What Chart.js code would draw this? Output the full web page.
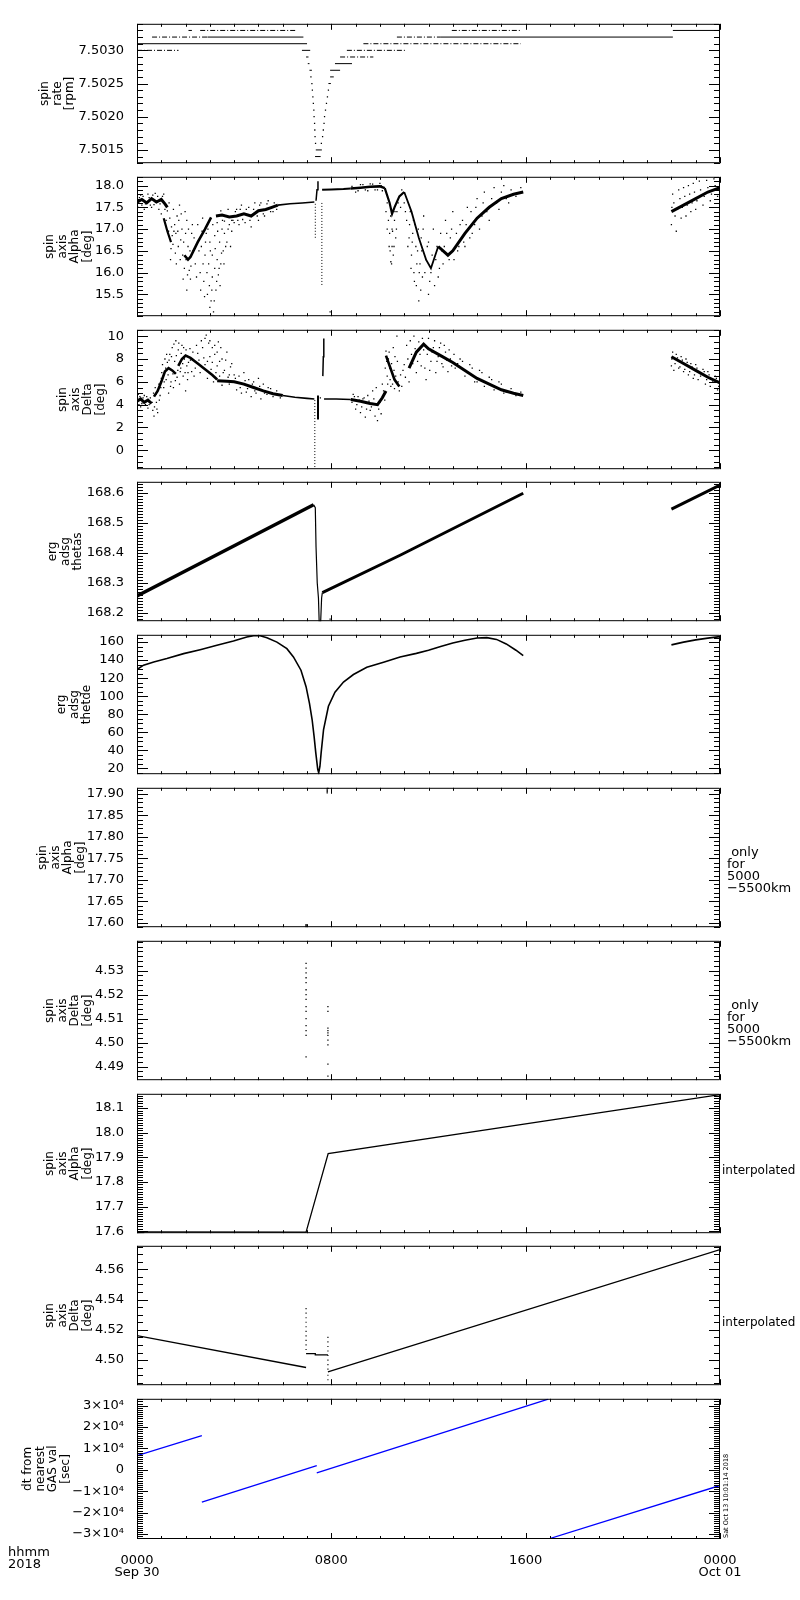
<!DOCTYPE html>
<html>
<head>
<meta charset="utf-8">
<script src="https://cdn.jsdelivr.net/npm/chart.js@4.4.0/dist/chart.umd.min.js"></script>
<style>
  html, body { margin: 0; padding: 0; background: #fff; }
  #page { position: relative; width: 800px; height: 1600px; overflow: hidden; background: #fff; }
  #page canvas { position: absolute; left: 0; }
</style>
</head>
<body>
<div id="page"></div>
<script>
// time axis: hours after 2018-09-30 00:00
const hourTicks = [0, 8, 16, 24];
const hourLabels = [['0000', 'Sep 30'], '0800', '1600', ['0000', 'Oct 01']];

// spin rate [rpm]: runs at a constant level (start h, end h, level)
const rateSteadyStart = [0.00, 2.90, 6.79, 6.96, 7.03, 7.10, 7.33, 7.36, 7.88, 7.95, 7.95, 8.15, 12.48, 22.06];
const rateSteadyEnd   = [7.00, 6.85, 7.13, 7.06, 7.10, 7.20, 7.56, 7.61, 7.98, 8.10, 8.36, 8.85, 22.06, 24.00];
const rateSteadyLevel = [7.5031, 7.5032, 7.5030, 7.5029, 7.5028, 7.5027, 7.5014, 7.5015, 7.5025, 7.5026, 7.5027, 7.5028, 7.5032, 7.5033];
const rateSparseStart = [0.00, 0.62, 2.12, 2.60, 8.36, 8.64, 9.32, 10.70, 12.96];
const rateSparseEnd   = [1.71, 2.90, 2.26, 6.58, 9.73, 11.10, 15.80, 12.48, 15.77];
const rateSparseLevel = [7.5030, 7.5032, 7.5033, 7.5033, 7.5029, 7.5030, 7.5031, 7.5032, 7.5033];
const rateDipTime  = [7.16, 7.20, 7.22, 7.24, 7.26, 7.28, 7.29, 7.31, 7.32, 7.33, 7.35, 7.59, 7.64, 7.67, 7.70, 7.72, 7.76, 7.80, 7.84, 7.88];
const rateDipLevel = [7.5026, 7.5025, 7.5024, 7.5023, 7.5022, 7.5021, 7.5020, 7.5019, 7.5018, 7.5017, 7.5016,
                      7.5016, 7.5017, 7.5018, 7.5019, 7.5020, 7.5021, 7.5022, 7.5023, 7.5024];

// spin axis alpha [deg]
const alphaBandLeft = [[0, 17.62], [0.2, 17.68], [0.4, 17.6], [0.6, 17.7], [0.8, 17.62], [1.0, 17.68], [1.15, 17.58], [1.25, 17.5]];
const alphaFallLeft = [[1.1, 17.25], [1.25, 16.95], [1.4, 16.7]];
const alphaRiseLeft = [[1.95, 16.4], [2.1, 16.3], [2.2, 16.36], [2.5, 16.7], [2.8, 17.0], [3.05, 17.27]];
const alphaBandMid = [[3.25, 17.3], [3.5, 17.32], [3.8, 17.28], [4.1, 17.3], [4.4, 17.35], [4.7, 17.3], [5.0, 17.42], [5.3, 17.45], [5.55, 17.5], [5.8, 17.55]];
const alphaSmooth = [[5.8, 17.55], [6.3, 17.58], [6.8, 17.6], [7.3, 17.62]];
const alphaJumpLow = [[7.34, 16.8], [7.34, 17.6]];
const alphaJumpHigh = [[7.37, 17.65], [7.41, 17.9], [7.45, 18.1]];
const alphaDrop = [[7.61, 17.6], [7.61, 15.7]];
const alphaFlat = [[7.62, 17.9], [8.0, 17.91], [8.5, 17.92], [8.8, 17.93]];
const alphaBandHigh = [[8.8, 17.93], [9.2, 17.95], [9.6, 17.97], [10.0, 17.98], [10.2, 17.94]];
const alphaDipOne = [[10.2, 17.94], [10.4, 17.6], [10.5, 17.35], [10.6, 17.5], [10.8, 17.75], [11.0, 17.85]];
const alphaDipTwo = [[11.0, 17.85], [11.3, 17.4], [11.6, 16.8], [11.9, 16.3], [12.1, 16.1], [12.4, 16.6]];
const alphaBandRight = [[12.4, 16.6], [12.8, 16.4], [13.0, 16.5], [13.5, 16.9], [14.0, 17.25], [14.5, 17.5], [15.0, 17.7], [15.5, 17.8], [15.9, 17.85]];
const alphaBandLate = [[22.0, 17.4], [22.5, 17.55], [23.0, 17.7], [23.5, 17.85], [24.0, 17.95]];
const alphaSpread = [
  [0.05, 17.5], [0.15, 17.78], [0.3, 17.45], [0.45, 17.8], [0.6, 17.5], [0.75, 17.82], [0.9, 17.45], [1.0, 17.35], [1.1, 17.8],
  [0.1, 17.72], [0.2, 17.55], [0.25, 17.75], [0.35, 17.58], [0.5, 17.72], [0.55, 17.55], [0.65, 17.78], [0.7, 17.56],
  [0.85, 17.75], [0.95, 17.58], [1.05, 17.75], [1.15, 17.45],
  [1.2, 17.2], [1.25, 17.42], [1.3, 16.95], [1.35, 17.25], [1.4, 16.55], [1.45, 16.85], [1.5, 17.45], [1.55, 17.1], [1.6, 16.9],
  [1.62, 16.2], [1.65, 17.3], [1.7, 16.6], [1.75, 17.55], [1.8, 16.75], [1.85, 17.0], [1.88, 16.4], [1.9, 15.85], [1.95, 16.1],
  [2.0, 16.9], [2.05, 15.6], [2.05, 17.2], [2.1, 16.6], [2.15, 16.05], [2.2, 15.85], [2.25, 16.9], [2.3, 16.5], [2.4, 16.2],
  [1.32, 17.6], [1.38, 16.3], [1.42, 17.05], [1.48, 16.65], [1.52, 16.95], [1.58, 16.45], [1.68, 16.95], [1.72, 17.2],
  [1.78, 16.3], [1.82, 17.35], [1.92, 16.7], [1.98, 17.4], [2.02, 16.3], [2.08, 15.95], [2.12, 17.0], [2.18, 16.5],
  [2.22, 16.15], [2.28, 17.1],
  [2.5, 17.1], [2.6, 16.0], [2.65, 16.6], [2.7, 17.25], [2.75, 15.8], [2.8, 16.4], [2.85, 16.9], [2.9, 15.5], [2.95, 16.2],
  [3.0, 15.2], [3.0, 16.7], [3.05, 15.35], [3.1, 15.9], [3.1, 16.4], [3.15, 15.1], [3.2, 16.1], [3.2, 16.85], [3.25, 15.6],
  [3.3, 16.3], [3.35, 15.95], [3.4, 16.7], [3.45, 16.2], [3.5, 17.0], [3.55, 16.5], [3.6, 16.9], [3.7, 16.7], [3.8, 17.1],
  [3.9, 16.95], [4.0, 17.15],
  [2.35, 16.8], [2.45, 15.9], [2.55, 16.5], [2.62, 15.6], [2.68, 16.95], [2.72, 16.2], [2.78, 15.45], [2.82, 16.7],
  [2.88, 16.0], [2.92, 17.0], [2.98, 15.7], [3.02, 16.5], [3.08, 15.6], [3.12, 17.1], [3.18, 15.35], [3.22, 16.55],
  [3.28, 15.8], [3.32, 16.95], [3.38, 16.1], [3.42, 15.7], [3.48, 16.45], [3.52, 17.2], [3.58, 16.2], [3.65, 16.6],
  [3.75, 17.0], [3.85, 16.6], [3.95, 17.2],
  [4.1, 17.45], [4.2, 17.1], [4.3, 17.55], [4.45, 17.15], [4.6, 17.5], [4.7, 17.05], [4.85, 17.6],
  [5.0, 17.2], [5.1, 17.6], [5.25, 17.3], [5.4, 17.65], [5.6, 17.4],
  [3.3, 17.15], [3.45, 17.42], [3.6, 17.18], [3.75, 17.45], [3.9, 17.2], [4.05, 17.4], [4.15, 17.2], [4.25, 17.45],
  [4.35, 17.22], [4.5, 17.45], [4.65, 17.2], [4.8, 17.45], [4.95, 17.3], [5.05, 17.55], [5.2, 17.35], [5.35, 17.58],
  [5.5, 17.4], [5.65, 17.6], [5.75, 17.45],
  [7.95, 15.1], [9.0, 17.85], [9.3, 18.02], [9.5, 17.88], [9.7, 18.03], [9.9, 17.9], [10.05, 18.0],
  [8.85, 17.98], [9.1, 17.88], [9.2, 18.02], [9.4, 17.9], [9.6, 18.04], [9.8, 17.9], [10.0, 18.05], [10.1, 17.88],
  [10.3, 17.6], [10.35, 17.2], [10.4, 16.9], [10.42, 16.5], [10.45, 16.25], [10.5, 16.6],
  [10.5, 17.0], [10.55, 16.4], [10.6, 17.2], [10.65, 16.8], [10.7, 17.4],
  [10.25, 17.4], [10.3, 17.0], [10.38, 16.6], [10.44, 17.3], [10.48, 16.2], [10.52, 16.95], [10.58, 16.6], [10.62, 17.4],
  [10.68, 17.0], [10.75, 17.6], [10.85, 17.5], [10.9, 17.9],
  [11.0, 17.6], [11.1, 17.2], [11.2, 16.8], [11.25, 17.4],
  [11.3, 16.4], [11.35, 16.9], [11.4, 16.0], [11.45, 17.1], [11.5, 15.7], [11.55, 16.5], [11.6, 15.35], [11.65, 16.2], [11.7, 16.8],
  [11.75, 15.9], [11.8, 17.3], [11.9, 16.3], [12.0, 15.5], [12.0, 16.7], [12.1, 16.0], [12.2, 17.0], [12.3, 16.3], [12.4, 15.9],
  [11.05, 17.4], [11.15, 16.6], [11.22, 17.1], [11.28, 16.1], [11.33, 16.7], [11.38, 17.2], [11.42, 15.8], [11.48, 16.6],
  [11.52, 16.2], [11.58, 17.0], [11.62, 16.0], [11.68, 15.6], [11.72, 16.5], [11.78, 17.0], [11.85, 16.0], [11.95, 16.6],
  [12.05, 15.8], [12.15, 16.4], [12.25, 15.7], [12.35, 16.6], [12.45, 16.1], [12.55, 16.5],
  [12.5, 16.9], [12.6, 16.2], [12.7, 17.2], [12.9, 16.8], [13.0, 17.4], [13.2, 16.5], [13.3, 17.1], [13.5, 16.6], [13.6, 17.5],
  [13.8, 16.9], [14.0, 17.7], [14.1, 17.0], [14.3, 17.85], [14.5, 17.2], [14.7, 17.95], [14.9, 17.45], [15.1, 18.0], [15.3, 17.6],
  [12.65, 16.6], [12.75, 16.9], [12.85, 16.3], [12.95, 17.0], [13.05, 16.3], [13.15, 16.9], [13.25, 16.6], [13.4, 17.2],
  [13.45, 16.7], [13.55, 17.1], [13.7, 16.8], [13.75, 17.4], [13.9, 17.1], [13.95, 17.5], [14.2, 17.3], [14.25, 17.6],
  [14.4, 17.4], [14.6, 17.7], [14.8, 17.6], [15.0, 17.85], [15.2, 17.7], [15.4, 17.9], [15.6, 17.75], [15.8, 17.95],
  [22.0, 17.1], [22.05, 17.8], [22.15, 17.3], [22.2, 16.95], [22.3, 17.9], [22.4, 17.25], [22.5, 17.95], [22.6, 17.3], [22.7, 18.0],
  [22.8, 17.4], [22.9, 18.05], [23.0, 17.45], [23.15, 18.1], [23.3, 17.55], [23.45, 18.12], [23.6, 17.65], [23.75, 18.15],
  [23.9, 17.75], [24.0, 18.15],
  [22.02, 17.5], [22.1, 17.6], [22.25, 17.45], [22.35, 17.7], [22.45, 17.5], [22.55, 17.75], [22.65, 17.55], [22.75, 17.8],
  [22.85, 17.6], [22.95, 17.85], [23.05, 17.65], [23.2, 17.9], [23.35, 17.75], [23.5, 17.95], [23.65, 17.8], [23.8, 18.0],
  [23.95, 17.9]
];

// spin axis delta [deg]
const deltaBandLeft = [[0, 4.3], [0.15, 4.5], [0.3, 4.2], [0.45, 4.4], [0.6, 4.1]];
const deltaRiseLeft = [[0.7, 4.7], [0.85, 5.2], [1.0, 6.0], [1.15, 6.9], [1.3, 7.2], [1.45, 7.0], [1.6, 6.7]];
const deltaArcLeft = [[1.7, 7.4], [1.85, 8.0], [2.0, 8.3], [2.2, 8.1], [2.5, 7.6], [2.8, 7.1], [3.1, 6.6], [3.3, 6.2]];
const deltaBandMid = [[3.3, 6.1], [3.7, 6.05], [4.0, 6.0], [4.4, 5.8], [4.8, 5.5], [5.2, 5.2], [5.6, 4.95], [6.0, 4.8]];
const deltaSmooth = [[6.0, 4.8], [6.5, 4.65], [7.0, 4.55], [7.3, 4.5]];
const deltaDrop = [[7.32, 4.4], [7.32, -1.66]];
const deltaSpike = [[7.45, 4.8], [7.45, 2.7]];
const deltaLift = [[7.65, 6.5], [7.67, 8.2], [7.69, 9.8]];
const deltaFlat = [[7.7, 4.5], [8.2, 4.5], [8.8, 4.45]];
const deltaBandHigh = [[8.8, 4.45], [9.2, 4.3], [9.6, 4.1], [9.9, 4.0], [10.1, 4.6], [10.25, 5.2]];
const deltaArcOne = [[10.25, 8.3], [10.4, 7.4], [10.6, 6.2], [10.8, 5.6]];
const deltaArcTwo = [[11.2, 7.2], [11.5, 8.6], [11.8, 9.3], [12.0, 8.9], [12.5, 8.3], [13.0, 7.7], [13.5, 7.0], [14.0, 6.3], [14.5, 5.8], [15.0, 5.3], [15.5, 5.0], [15.9, 4.8]];
const deltaBandLate = [[22.0, 8.2], [22.5, 7.6], [23.0, 7.0], [23.5, 6.4], [24.0, 5.9]];
const deltaSpread = [
  [0.05, 4.9], [0.15, 3.8], [0.3, 4.8], [0.45, 3.7], [0.55, 4.6], [0.65, 3.5], [0.7, 3.0], [0.75, 5.5], [0.8, 4.2], [0.85, 3.3],
  [0.02, 4.6], [0.08, 4.0], [0.12, 4.7], [0.2, 4.1], [0.25, 4.6], [0.35, 4.0], [0.4, 4.7], [0.5, 4.0],
  [0.62, 4.2], [0.68, 5.0], [0.72, 3.8], [0.78, 4.9], [0.82, 3.6], [0.88, 5.3], [0.92, 4.4], [0.98, 5.5], [1.02, 6.8], [1.08, 6.5],
  [0.9, 5.8], [0.95, 4.8], [1.0, 6.3], [1.05, 7.5], [1.1, 5.5], [1.15, 8.0], [1.2, 6.2], [1.25, 7.7], [1.3, 5.0], [1.35, 8.4],
  [1.4, 6.0], [1.45, 9.0], [1.5, 5.5], [1.55, 7.8], [1.6, 9.6], [1.65, 6.4], [1.7, 8.8], [1.75, 5.8], [1.8, 7.2], [1.85, 9.2],
  [1.9, 6.5], [1.95, 8.0], [2.0, 5.2], [2.05, 7.4], [2.1, 6.8], [2.2, 7.9], [2.4, 7.2], [2.5, 8.5], [2.6, 6.8], [2.7, 9.0],
  [1.12, 6.0], [1.18, 7.2], [1.22, 8.4], [1.28, 6.6], [1.32, 7.9], [1.38, 5.6], [1.42, 8.2], [1.48, 6.7], [1.52, 9.3],
  [1.58, 6.1], [1.62, 8.3], [1.68, 7.0], [1.72, 9.4], [1.78, 6.9], [1.82, 8.5], [1.88, 7.6], [1.92, 9.0], [1.98, 6.8],
  [2.02, 8.8], [2.08, 6.2], [2.12, 7.7], [2.18, 8.9], [2.25, 6.9], [2.3, 8.6],
  [2.8, 7.5], [2.85, 10.1], [2.9, 6.3], [2.95, 9.4], [3.0, 8.2], [3.05, 7.1], [3.1, 9.0], [3.15, 6.0], [3.2, 8.4], [3.3, 7.4],
  [3.35, 9.5], [3.4, 6.5], [3.5, 8.0], [3.6, 7.0], [3.7, 8.6], [3.8, 6.6], [3.9, 7.6],
  [2.35, 6.5], [2.45, 9.2], [2.55, 7.9], [2.65, 9.6], [2.75, 8.1], [2.8, 9.8], [2.9, 7.8], [3.0, 9.6], [3.1, 7.7], [3.2, 9.2],
  [3.25, 6.8], [3.3, 8.6], [3.4, 7.8], [3.45, 9.0], [3.55, 6.8], [3.65, 7.9], [3.75, 6.4], [3.85, 7.3],
  [4.0, 6.6], [4.1, 5.3], [4.2, 6.5], [4.3, 5.0], [4.4, 6.8], [4.5, 5.1], [4.6, 6.2], [4.7, 4.7], [4.8, 6.0], [4.9, 5.0],
  [5.0, 6.3], [5.1, 4.5], [5.2, 5.8], [5.35, 4.9], [5.5, 5.4],
  [3.5, 5.7], [3.8, 5.8], [4.05, 6.3], [4.25, 5.5], [4.45, 6.1], [4.55, 5.4], [4.75, 5.8], [4.85, 5.2], [5.05, 5.6],
  [5.25, 5.0], [5.4, 5.5], [5.6, 4.7], [5.75, 5.2], [5.9, 4.6],
  [7.55, 4.6], [8.9, 4.9], [9.0, 3.6], [9.1, 4.7], [9.2, 3.3], [9.3, 4.5], [9.4, 2.9], [9.5, 4.8],
  [9.6, 3.5], [9.7, 5.2], [9.8, 3.0], [9.85, 5.5], [9.9, 2.6], [10.0, 4.2], [10.05, 3.2], [10.1, 5.8],
  [8.85, 4.2], [8.95, 4.7], [9.05, 4.0], [9.15, 4.4], [9.25, 3.8], [9.35, 4.6], [9.45, 3.6], [9.55, 4.3], [9.65, 3.8],
  [9.75, 4.5], [9.95, 3.6], [10.15, 5.2], [10.2, 4.4],
  [10.25, 8.7], [10.3, 6.5], [10.35, 8.0], [10.4, 7.2], [10.45, 5.6], [10.5, 6.8], [10.55, 9.0], [10.6, 5.4], [10.7, 10.0], [10.75, 6.0],
  [10.22, 7.2], [10.28, 7.8], [10.32, 5.8], [10.38, 8.6], [10.42, 6.2], [10.48, 7.6], [10.52, 5.8], [10.58, 7.0], [10.62, 8.2],
  [10.65, 6.5], [10.72, 7.8], [10.8, 5.2], [10.85, 6.6], [10.9, 5.6], [10.95, 7.0],
  [11.0, 7.5], [11.1, 9.2], [11.2, 6.0], [11.3, 8.4], [11.4, 10.0], [11.5, 6.8], [11.6, 9.5], [11.7, 7.4], [11.8, 8.8], [11.9, 6.2],
  [12.0, 9.8], [12.1, 7.8], [12.2, 9.0], [12.3, 6.8], [12.4, 8.2], [12.5, 9.4], [12.6, 7.3], [12.7, 8.6], [12.8, 6.9], [12.9, 8.0],
  [11.05, 6.4], [11.15, 8.0], [11.25, 9.6], [11.35, 7.6], [11.45, 8.9], [11.55, 7.8], [11.65, 8.4], [11.75, 9.8], [11.85, 7.2],
  [11.95, 8.4], [12.05, 7.0], [12.15, 8.6], [12.25, 9.6], [12.35, 7.8], [12.45, 9.0], [12.55, 7.6], [12.65, 9.2], [12.75, 7.9],
  [12.85, 8.8], [12.95, 7.4],
  [13.1, 7.2], [13.3, 8.0], [13.5, 6.5], [13.7, 7.5], [13.9, 6.0], [14.1, 7.0], [14.3, 5.6], [14.5, 6.4], [14.7, 5.3], [14.9, 6.0],
  [15.1, 5.0], [13.05, 8.4], [13.2, 7.6], [13.4, 7.8], [13.6, 6.8], [13.8, 7.2], [14.0, 6.0], [14.2, 6.8], [14.4, 5.9],
  [14.6, 6.2], [14.8, 5.5], [15.0, 5.8], [15.2, 5.1], [15.4, 5.4], [15.6, 4.8], [15.8, 5.1],
  [22.0, 7.4], [22.05, 8.6], [22.1, 7.0], [22.2, 8.4], [22.3, 7.2], [22.4, 8.2], [22.5, 6.9], [22.6, 8.0], [22.7, 6.6], [22.8, 7.6],
  [22.9, 6.3], [23.0, 7.5], [23.1, 6.2], [23.3, 7.1], [23.4, 5.8], [23.5, 6.9], [23.6, 5.6], [23.8, 6.5], [23.9, 5.3], [24.0, 6.2],
  [22.02, 8.0], [22.15, 7.6], [22.25, 8.1], [22.35, 7.3], [22.45, 7.9], [22.55, 7.1], [22.65, 7.7], [22.75, 6.9], [22.85, 7.3],
  [22.95, 6.6], [23.05, 7.2], [23.2, 6.5], [23.35, 6.9], [23.45, 6.2], [23.55, 6.6], [23.7, 6.0], [23.85, 6.3], [23.95, 5.6]
];

// erg adsg thetas
const thetasRiseA = [[0, 168.257], [7.27, 168.56]];
const thetasDrop = [[7.27, 168.56], [7.34, 168.55], [7.37, 168.42], [7.42, 168.3], [7.47, 168.25], [7.5, 168.17]];
const thetasClimb = [[7.56, 168.17], [7.6, 168.25], [7.63, 168.268]];
const thetasRiseB = [[7.63, 168.268], [10.83, 168.392], [15.9, 168.598]];
const thetasRiseC = [[22.0, 168.545], [24.0, 168.625]];
const thetasStray = [[7.95, 168.18]];

// erg adsg thetde
const thetdeCurve = [
  [0, 129.6], [0.27, 134.4], [0.69, 138], [1.23, 141.7], [1.92, 147.2], [2.6, 151.6], [3.29, 156.4], [3.97, 161.2], [4.52, 165.6],
  [4.8, 167], [5.07, 167], [5.35, 164.8], [5.76, 160], [6.17, 152.7], [6.44, 143.5], [6.75, 128.8], [6.96, 110.5], [7.1, 92],
  [7.21, 73.8], [7.29, 55.4], [7.36, 37], [7.44, 18.8], [7.48, 15], [7.53, 22], [7.58, 37], [7.68, 63], [7.88, 88.8], [8.15, 104.4],
  [8.5, 115.6], [8.91, 124], [9.46, 132], [10.15, 137.6], [10.83, 143.5], [11.5, 147.5], [12.0, 151], [12.5, 155], [13.0, 159],
  [13.5, 162], [14.0, 164.5], [14.4, 165], [14.8, 163], [15.2, 158], [15.6, 151], [15.9, 145]
];
const thetdeLate = [[22.0, 157], [22.5, 160], [23.0, 162.5], [23.5, 164.5], [24.0, 166]];

// spin axis alpha / delta, only for 5000-5500km
const alphaNearTime = [6.96, 6.96, 6.96, 6.96, 7.83, 7.83, 7.83, 7.83, 7.83, 7.85, 7.87];
const alphaNearValue = [17.590, 17.592, 17.594, 17.596, 17.902, 17.905, 17.908, 17.911, 17.913, 17.913, 17.913];
const deltaNearTime = [6.96, 6.96, 6.96, 6.96, 6.96, 6.96, 6.96, 6.96, 6.96, 6.96, 6.96, 6.96, 6.96, 6.96, 6.96,
                       7.86, 7.86, 7.86, 7.86, 7.86, 7.86, 7.86, 7.86, 7.86, 7.86];
const deltaNearValue = [4.533, 4.531, 4.529, 4.527, 4.525, 4.522, 4.520, 4.518, 4.515, 4.513, 4.510, 4.507, 4.505, 4.503, 4.494,
                        4.515, 4.513, 4.506, 4.505, 4.504, 4.503, 4.501, 4.499, 4.491, 4.486];

// interpolated alpha / delta
const alphaInterp = [[0, 17.597], [6.96, 17.596], [7.87, 17.915], [24, 18.155]];
const alphaInterpStub = [[0, 17.594], [0.3, 17.595]];
const deltaInterpA = [[0, 4.5162], [6.96, 4.4951]];
const deltaInterpB = [[7.86, 4.4922], [24, 4.573]];
const deltaInterpHold = [[6.96, 4.5042], [7.34, 4.5042], [7.34, 4.5035], [7.86, 4.5035]];
const deltaInterpTime = [6.96, 6.96, 6.96, 6.96, 6.96, 6.96, 6.96, 6.96, 6.96, 6.96, 7.86, 7.86, 7.86, 7.86, 7.86, 7.86, 7.86, 7.86, 7.86, 7.86];
const deltaInterpValue = [4.534, 4.531, 4.528, 4.525, 4.522, 4.519, 4.516, 4.513, 4.510, 4.507,
                          4.515, 4.512, 4.509, 4.506, 4.503, 4.500, 4.497, 4.494, 4.490, 4.487];

// dt from nearest GAS value [sec]
const dtRunA = [[0, 6660], [2.67, 15980]];
const dtRunB = [[2.67, -15100], [7.40, 2000]];
const dtRunC = [[7.40, -1400], [16.93, 33000]];
const dtRunD = [[16.93, -32300], [24, -7300]];

// ---------------------------------------------------------------
const INK = '#000000';
const BLUE = '#0000ff';
const PAD = 12;
const PLOT_H = 141;
const LEFT = 137;
const RIGHT = 720;
const panelTop = [23, 176, 329, 481, 634, 787, 940, 1093, 1245, 1398];
const FONT = "'DejaVu Sans', sans-serif";

Chart.defaults.font.family = FONT;
Chart.defaults.color = INK;

const pts = (list) => list.map(([x, y]) => ({x, y}));
const xy = (t, v) => t.map((h, i) => ({x: h, y: v[i]}));

function trace(list, width, color, dash) {
  return {data: pts(list), showLine: true, borderColor: color || INK, borderWidth: width,
          borderDash: dash || [], pointRadius: 0, tension: 0};
}
function dots(data, r) {
  return {data, showLine: false, pointStyle: 'rect', pointRadius: r || 1, backgroundColor: INK, borderWidth: 0};
}
function runs(start, end, level, width, dash) {
  return start.map((s, i) => trace([[s, level[i]], [end[i], level[i]]], width, INK, dash));
}

const rightNote = (top) => ({lines: [' only', 'for', '5000', '\u22125500km'], x: 727, y: top + 66, step: 12, font: '13px ' + FONT});
const interpNote = (top) => ({lines: ['interpolated'], x: 722, y: top + 78, step: 12, font: '12px ' + FONT});
const sci = (v) => v === 0 ? '0' : (v < 0 ? '\u2212' : '') + Math.abs(v / 1e4) + '\u00d710\u2074';

const panels = [
  {
    title: ['spin', 'rate', '[rpm]'], center: 45, min: 7.5013, max: 7.5034,
    major: [7.5015, 7.5020, 7.5025, 7.5030], minor: 0.0001, fmt: (v) => v.toFixed(4),
    sets: [
      ...runs(rateSteadyStart, rateSteadyEnd, rateSteadyLevel, 1),
      ...runs(rateSparseStart, rateSparseEnd, rateSparseLevel, 1, [5, 2, 1, 2]),
      dots(xy(rateDipTime, rateDipLevel), 0.9)
    ]
  },
  {
    title: ['spin', 'axis', 'Alpha', '[deg]'], center: 50, min: 15.0, max: 18.2,
    major: [15.5, 16.0, 16.5, 17.0, 17.5, 18.0], minor: 0.1, fmt: (v) => v.toFixed(1),
    sets: [
      trace(alphaBandLeft, 3), trace(alphaFallLeft, 2.2), trace(alphaRiseLeft, 2.6), trace(alphaBandMid, 3),
      trace(alphaSmooth, 1.6), trace(alphaJumpLow, 1, INK, [1, 2]), trace(alphaJumpHigh, 1.5),
      trace(alphaDrop, 1, INK, [1, 2]), trace(alphaFlat, 2), trace(alphaBandHigh, 2.6), trace(alphaDipOne, 2.2),
      trace(alphaDipTwo, 1.8), trace(alphaBandRight, 3), trace(alphaBandLate, 3),
      dots(pts(alphaSpread), 0.9)
    ]
  },
  {
    title: ['spin', 'axis', 'Delta', '[deg]'], center: 63, min: -1.66, max: 10.56,
    major: [0, 2, 4, 6, 8, 10], minor: 0.5, fmt: (v) => v.toFixed(0),
    sets: [
      trace(deltaBandLeft, 3), trace(deltaRiseLeft, 2.6), trace(deltaArcLeft, 2.6), trace(deltaBandMid, 3),
      trace(deltaSmooth, 1.6), trace(deltaDrop, 1, INK, [1, 2]), trace(deltaSpike, 2), trace(deltaLift, 1.5),
      trace(deltaFlat, 1.6), trace(deltaBandHigh, 3), trace(deltaArcOne, 2.6), trace(deltaArcTwo, 3),
      trace(deltaBandLate, 3),
      dots(pts(deltaSpread), 0.9)
    ]
  },
  {
    title: ['erg', 'adsg', 'thetas'], center: 53, min: 168.173, max: 168.636,
    major: [168.2, 168.3, 168.4, 168.5, 168.6], minor: 0.01, fmt: (v) => v.toFixed(1),
    sets: [
      trace(thetasRiseA, 3.5), trace(thetasDrop, 1.2), trace(thetasClimb, 1.2), trace(thetasRiseB, 3),
      trace(thetasRiseC, 3), dots(pts(thetasStray), 0.9)
    ]
  },
  {
    title: ['erg', 'adsg', 'thetde'], center: 62, min: 13.4, max: 168.1,
    major: [20, 40, 60, 80, 100, 120, 140, 160], minor: 5, fmt: (v) => v.toFixed(0),
    sets: [trace(thetdeCurve, 1.6), trace(thetdeLate, 1.8)]
  },
  {
    title: ['spin', 'axis', 'Alpha', '[deg]'], center: 43, min: 17.59, max: 17.914,
    major: [17.60, 17.65, 17.70, 17.75, 17.80, 17.85, 17.90], minor: 0.01, fmt: (v) => v.toFixed(2),
    sets: [dots(xy(alphaNearTime, alphaNearValue), 0.9)],
    notes: [rightNote]
  },
  {
    title: ['spin', 'axis', 'Delta', '[deg]'], center: 50, min: 4.4843, max: 4.5424,
    major: [4.49, 4.50, 4.51, 4.52, 4.53], minor: 0.002, fmt: (v) => v.toFixed(2),
    sets: [dots(xy(deltaNearTime, deltaNearValue), 0.9)],
    notes: [rightNote]
  },
  {
    title: ['spin', 'axis', 'Alpha', '[deg]'], center: 50, min: 17.592, max: 18.158,
    major: [17.6, 17.7, 17.8, 17.9, 18.0, 18.1], minor: 0.01, fmt: (v) => v.toFixed(1),
    sets: [trace(alphaInterp, 1.3), trace(alphaInterpStub, 2)],
    notes: [interpNote]
  },
  {
    title: ['spin', 'axis', 'Delta', '[deg]'], center: 50, min: 4.4834, max: 4.5755,
    major: [4.50, 4.52, 4.54, 4.56], minor: 0.005, fmt: (v) => v.toFixed(2),
    sets: [
      trace(deltaInterpA, 1.3), trace(deltaInterpB, 1.3), trace(deltaInterpHold, 1.3),
      dots(xy(deltaInterpTime, deltaInterpValue), 0.8)
    ],
    notes: [interpNote]
  },
  {
    title: ['dt from', 'nearest', 'GAS val', '[sec]'], center: 28, min: -32300, max: 33200,
    major: [-30000, -20000, -10000, 0, 10000, 20000, 30000], minor: 1000, fmt: sci,
    sets: [trace(dtRunA, 1.3, BLUE), trace(dtRunB, 1.3, BLUE), trace(dtRunC, 1.3, BLUE), trace(dtRunD, 1.3, BLUE)],
    notes: [
      () => ({lines: ['hhmm', '2018'], x: 8, y: 1553, step: 12, font: '13px ' + FONT}),
      () => ({lines: ['Sat Oct 13 10:01:14 2018'], x: 726, y: 1538, step: 0, font: '6.5px ' + FONT, rotate: -Math.PI / 2})
    ]
  }
];

// IDL style frame: inward ticks on all four sides
function frameTicks(p) {
  return {
    id: 'frameTicks',
    afterDatasetsDraw(chart) {
      const {ctx, chartArea: a, scales: {x, y}} = chart;
      ctx.save();
      ctx.strokeStyle = INK;
      ctx.lineWidth = 1;
      ctx.beginPath();
      ctx.rect(a.left + 0.5, a.top + 0.5, a.right - a.left - 1, a.bottom - a.top - 1);
      for (let h = 0; h <= 24; h++) {
        const px = Math.round(x.getPixelForValue(h)) + 0.5;
        const len = h % 8 === 0 ? 6 : 3;
        ctx.moveTo(px, a.top); ctx.lineTo(px, a.top + len);
        ctx.moveTo(px, a.bottom); ctx.lineTo(px, a.bottom - len);
      }
      const k0 = Math.ceil(p.min / p.minor - 1e-6);
      const k1 = Math.floor(p.max / p.minor + 1e-6);
      for (let k = k0; k <= k1; k++) {
        const v = k * p.minor;
        const major = p.major.some((m) => Math.abs(m - v) < p.minor / 10);
        const len = major ? 11 : 6;
        const py = Math.round(y.getPixelForValue(v)) + 0.5;
        ctx.moveTo(a.left, py); ctx.lineTo(a.left + len, py);
        ctx.moveTo(a.right, py); ctx.lineTo(a.right - len, py);
      }
      ctx.stroke();
      ctx.restore();
    }
  };
}

function notesPlugin(items, offset) {
  return {
    id: 'notes',
    afterDraw(chart) {
      const ctx = chart.ctx;
      items.forEach((n) => {
        ctx.save();
        ctx.font = n.font;
        ctx.fillStyle = INK;
        ctx.textAlign = 'left';
        ctx.textBaseline = 'middle';
        ctx.translate(n.x, n.y - offset);
        if (n.rotate) ctx.rotate(n.rotate);
        n.lines.forEach((s, k) => ctx.fillText(s, 0, k * n.step));
        ctx.restore();
      });
    }
  };
}

const page = document.getElementById('page');

panels.forEach((p, i) => {
  const last = i === panels.length - 1;
  const top = panelTop[i] - PAD;
  const height = last ? 1600 - top : PLOT_H + 2 * PAD;
  const cv = document.createElement('canvas');
  cv.width = 800;
  cv.height = height;
  cv.style.top = top + 'px';
  cv.style.width = '800px';
  cv.style.height = height + 'px';
  page.appendChild(cv);

  const xScale = {
    type: 'linear', min: 0, max: 24, display: last,
    grid: {display: false}, border: {display: false},
    afterBuildTicks: (s) => { s.ticks = hourTicks.map((v) => ({value: v})); },
    ticks: {
      autoSkip: false, maxRotation: 0, padding: 8,
      font: {size: 13, lineHeight: '12px'},
      callback: (v) => hourLabels[hourTicks.indexOf(v)]
    }
  };
  if (last) xScale.afterFit = (s) => { s.height = height - PAD - PLOT_H; };

  new Chart(cv, {
    type: 'scatter',
    data: {datasets: p.sets},
    options: {
      responsive: false,
      animation: false,
      devicePixelRatio: 1,
      events: [],
      layout: {padding: {left: 0, right: 800 - RIGHT, top: PAD, bottom: last ? 0 : PAD}},
      plugins: {legend: {display: false}, tooltip: {enabled: false}},
      scales: {
        x: xScale,
        y: {
          type: 'linear', min: p.min, max: p.max, position: 'left',
          grid: {display: false}, border: {display: false},
          afterBuildTicks: (s) => { s.ticks = p.major.map((v) => ({value: v})); },
          afterFit: (s) => { s.width = LEFT; },
          ticks: {autoSkip: false, padding: 5, font: {size: 13}, callback: (v) => p.fmt(v)},
          title: {
            display: true, text: p.title, color: INK,
            font: {size: 12, lineHeight: '12.5px'},
            padding: {top: p.center - 6.25, bottom: 0}
          }
        }
      }
    },
    plugins: [frameTicks(p), notesPlugin((p.notes || []).map((f) => f(panelTop[i])), top)]
  });
});
</script>
</body>
</html>
